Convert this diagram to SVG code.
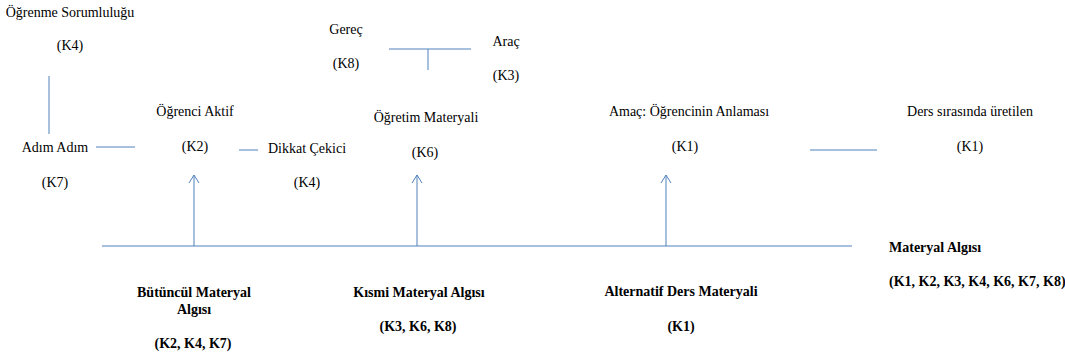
<svg xmlns="http://www.w3.org/2000/svg" width="1065" height="358" viewBox="0 0 1065 358">
  <defs>
    <style>
      .t { font-family: "Liberation Serif", "Times New Roman", "DejaVu Serif", serif; font-size: 14px; fill: #000; }
      .c { text-anchor: middle; }
      .b { font-weight: bold; }
      .ln { stroke: #4F81BD; stroke-width: 1; fill: none; }
    </style>
    <marker id="arrow" viewBox="0 0 10 12" refX="9" refY="6" markerWidth="10" markerHeight="12" markerUnits="userSpaceOnUse" orient="auto">
      <path d="M1,1 L9,6 L1,11" stroke="#4F81BD" stroke-width="1" fill="none"/>
    </marker>
  </defs>
  <rect width="1065" height="358" fill="#fff"/>

  <!-- connectors -->
  <g id="connectors">
    <line class="ln" x1="102" y1="246" x2="852" y2="246"/>
    <line class="ln" x1="194" y1="246" x2="194" y2="175" marker-end="url(#arrow)"/>
    <line class="ln" x1="417" y1="246" x2="417" y2="175" marker-end="url(#arrow)"/>
    <line class="ln" x1="666" y1="246" x2="666" y2="175" marker-end="url(#arrow)"/>
    <line class="ln" x1="49" y1="76" x2="49" y2="134"/>
    <line class="ln" x1="96" y1="147" x2="135" y2="147"/>
    <line class="ln" x1="239" y1="150" x2="258" y2="150"/>
    <line class="ln" x1="389" y1="49" x2="471" y2="49"/>
    <line class="ln" x1="428" y1="49" x2="428" y2="70"/>
    <line class="ln" x1="810" y1="150" x2="877" y2="150"/>
  </g>

  <g class="t">
    <g id="ogrenme-sorumlulugu">
      <text class="t c" x="70" y="17">Öğrenme Sorumluluğu</text>
      <text class="t c" x="70" y="50">(K4)</text>
    </g>
    <g id="adim-adim">
      <text class="t c" x="55" y="152">Adım Adım</text>
      <text class="t c" x="55" y="187">(K7)</text>
    </g>
    <g id="ogrenci-aktif">
      <text class="t c" x="195" y="116">Öğrenci Aktif</text>
      <text class="t c" x="195" y="151">(K2)</text>
    </g>
    <g id="dikkat-cekici">
      <text class="t c" x="307" y="153">Dikkat Çekici</text>
      <text class="t c" x="307" y="187">(K4)</text>
    </g>
    <g id="gerec">
      <text class="t c" x="346" y="34">Gereç</text>
      <text class="t c" x="346" y="68">(K8)</text>
    </g>
    <g id="arac">
      <text class="t c" x="506" y="46">Araç</text>
      <text class="t c" x="506" y="80">(K3)</text>
    </g>
    <g id="ogretim-materyali">
      <text class="t c" x="426" y="122">Öğretim Materyali</text>
      <text class="t c" x="425" y="157">(K6)</text>
    </g>
    <g id="amac">
      <text class="t c" x="689" y="116">Amaç: Öğrencinin Anlaması</text>
      <text class="t c" x="685" y="151">(K1)</text>
    </g>
    <g id="ders-sirasinda">
      <text class="t c" x="970" y="116">Ders sırasında üretilen</text>
      <text class="t c" x="970" y="151">(K1)</text>
    </g>

    <g id="butuncul">
      <text class="t c b" x="194" y="297">Bütüncül Materyal</text>
      <text class="t c b" x="194" y="314">Algısı</text>
      <text class="t c b" x="193" y="348">(K2, K4, K7)</text>
    </g>
    <g id="kismi">
      <text class="t c b" x="419" y="297">Kısmi Materyal Algısı</text>
      <text class="t c b" x="418" y="331">(K3, K6, K8)</text>
    </g>
    <g id="alternatif">
      <text class="t c b" x="681" y="296">Alternatif Ders Materyali</text>
      <text class="t c b" x="681" y="331">(K1)</text>
    </g>
    <g id="materyal-algisi">
      <text class="t b" x="889" y="252">Materyal Algısı</text>
      <text class="t b" x="889" y="286">(K1, K2, K3, K4, K6, K7, K8)</text>
    </g>
  </g>
</svg>
